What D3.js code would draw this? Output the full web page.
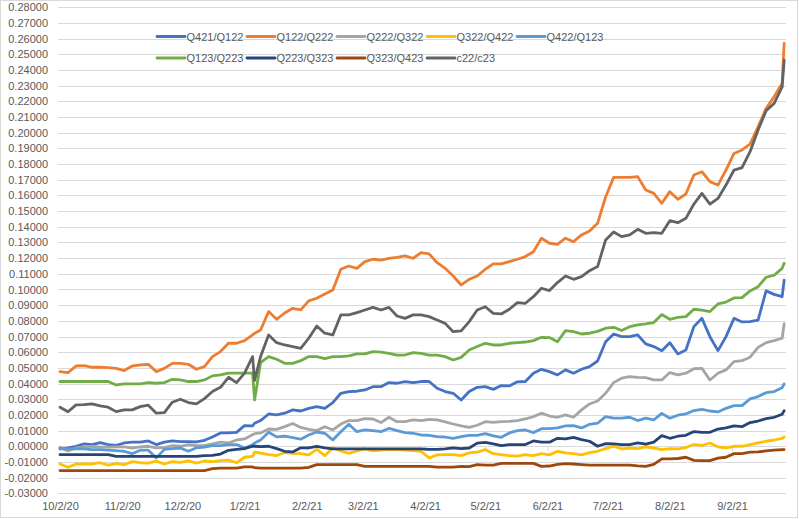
<!DOCTYPE html>
<html>
<head>
<meta charset="utf-8">
<script src="https://cdn.jsdelivr.net/npm/d3@7"></script>
<style>
  html, body { margin: 0; padding: 0; background: #fff; }
  svg { display: block; font-family: "Liberation Sans", Arial, sans-serif; }
  .tick text { fill: #595959; font-size: 11px; }
</style>
</head>
<body>
<div id="chart"></div>
<script>
// sample dates: every 4th day from 10/2/20, plus two extra days (1/7/21 dip, 9/28/21 last point)
const startDate = new Date(2020, 9, 2);
const dates = d3.range(91).map(i => d3.timeDay.offset(startDate, 4 * i));
dates.splice(25, 0, new Date(2021, 0, 7));
dates.push(new Date(2021, 8, 28));

const xTickLabels = ['10/2/20', '11/2/20', '12/2/20', '1/2/21', '2/2/21', '3/2/21',
    '4/2/21', '5/2/21', '6/2/21', '7/2/21', '8/2/21', '9/2/21'];

const seriesNames = ['Q421/Q122', 'Q122/Q222', 'Q222/Q322', 'Q322/Q422', 'Q422/Q123',
    'Q123/Q223', 'Q223/Q323', 'Q323/Q423', 'c22/c23'];
const seriesColors = ['#4472C4', '#ED7D31', '#A5A5A5', '#FFC000', '#5B9BD5',
    '#70AD47', '#264478', '#9E480E', '#636363'];

// values, in hundredths (0.05 -> 5)
const q421 = [-0.17, -0.11, 0.0, 0.15, 0.11, 0.23, 0.11, 0.06, 0.21, 0.26,
    0.26, 0.34, 0.11, 0.26, 0.34, 0.3, 0.3, 0.28, 0.38, 0.59,
    0.85, 0.85, 0.89, 1.32, 1.3, 1.47,
    1.64, 2.06, 2.0, 2.11, 2.32,
    2.25, 2.42, 2.53, 2.42, 2.78, 3.38, 3.49, 3.51, 3.59, 3.8,
    3.8, 4.06, 4.02, 4.13, 4.06, 4.13, 4.13, 3.7, 3.49, 3.38,
    2.95, 3.49, 3.76, 3.8, 3.63, 3.87, 3.85, 4.11, 4.13, 4.66,
    4.91, 4.76, 4.55, 4.87, 4.66, 4.91, 5.08, 5.44, 6.67, 7.16,
    6.99, 6.99, 7.1, 6.53, 6.36, 6.1, 6.61, 5.89, 6.14, 7.63,
    8.16, 6.99, 6.1, 6.99, 8.16, 7.93, 7.95, 8.05, 9.91, 9.69,
    9.54, 10.6];

const q122 = [4.76, 4.7, 5.12, 5.14, 5.04, 5.04, 5.02, 4.97, 4.83, 5.12,
    5.19, 5.23, 4.76, 4.97, 5.29, 5.29, 5.23, 4.91, 5.08, 5.72,
    6.04, 6.57, 6.57, 6.74, 7.1, 7.2,
    7.42, 8.59, 8.1, 8.5, 8.8,
    8.7, 9.27, 9.44, 9.71, 9.97, 11.29, 11.5, 11.35, 11.78, 11.93,
    11.88, 11.99, 12.05, 12.14, 11.99, 12.35, 12.27, 11.71, 11.35, 10.86,
    10.29, 10.65, 10.86, 11.29, 11.63, 11.63, 11.78, 11.93, 12.1, 12.41,
    13.27, 12.95, 12.88, 13.27, 13.05, 13.48, 13.73, 14.22, 15.9, 17.15,
    17.15, 17.15, 17.2, 16.35, 16.13, 15.5, 16.24, 15.75, 16.09, 17.3,
    17.51, 16.88, 16.66, 17.62, 18.68, 18.9, 19.28, 20.38, 21.55, 22.3,
    23.15, 25.7];

const q222 = [-0.11, -0.3, -0.11, -0.05, 0.0, -0.05, -0.05, -0.04, -0.04, -0.11,
    -0.04, 0.0, -0.1, -0.08, 0.04, 0.0, 0.1, 0.05, 0.04, 0.15,
    0.26, 0.21, 0.4, 0.47, 0.74, 0.8,
    0.85, 1.1, 1.08, 1.25, 1.45,
    1.2, 1.08, 1.0, 1.25, 1.04, 1.42, 1.64, 1.64, 1.76, 1.74,
    1.51, 1.85, 1.57, 1.57, 1.68, 1.64, 1.72, 1.68, 1.55, 1.42,
    1.3, 1.21, 1.34, 1.57, 1.53, 1.57, 1.59, 1.64, 1.74, 1.89,
    2.11, 1.93, 1.85, 2.0, 1.85, 2.32, 2.7, 2.89, 3.38, 4.06,
    4.34, 4.44, 4.4, 4.38, 4.23, 4.23, 4.7, 4.55, 4.66, 4.95,
    4.97, 4.23, 4.66, 4.87, 5.4, 5.46, 5.68, 6.31, 6.61, 6.74,
    6.89, 7.8];

const q322 = [-1.13, -1.34, -1.13, -1.13, -1.13, -1.05, -1.2, -1.1, -1.17, -0.98,
    -1.05, -1.08, -0.95, -1.13, -0.98, -1.03, -0.93, -1.08, -0.94, -0.98,
    -0.92, -0.88, -1.05, -0.7, -0.65, -0.38,
    -0.43, -0.53, -0.59, -0.4, -0.45,
    -0.47, -0.55, -0.2, -0.6, -0.1, -0.3, -0.45, -0.3, -0.17, -0.3,
    -0.25, -0.2, -0.21, -0.24, -0.28, -0.32, -0.75, -0.55, -0.53, -0.53,
    -0.6, -0.42, -0.38, -0.21, -0.47, -0.53, -0.6, -0.63, -0.53, -0.59,
    -0.47, -0.55, -0.32, -0.42, -0.47, -0.55, -0.4, -0.32, -0.15, 0.0,
    -0.17, -0.11, -0.15, -0.04, -0.11, -0.21, -0.15, -0.17, -0.08, 0.11,
    0.05, 0.21, -0.04, -0.1, 0.0, 0.0, 0.11, 0.21, 0.32, 0.4,
    0.51, 0.59];

const q422 = [-0.11, -0.17, -0.17, -0.17, -0.21, -0.21, -0.25, -0.28, -0.32, -0.47,
    -0.25, -0.25, -0.74, -0.2, -0.15, -0.11, -0.32, -0.1, -0.05, 0.04,
    0.04, 0.1, 0.11, -0.11, 0.1, 0.2,
    0.4, 0.89, 0.6, 0.64, 0.55,
    0.45, 0.72, 0.91, 0.83, 0.4, 0.93, 1.4, 0.93, 1.04, 1.0,
    0.93, 1.14, 1.0, 0.87, 0.83, 0.72, 0.7, 0.61, 0.59, 0.51,
    0.61, 0.7, 0.7, 0.81, 0.66, 0.57, 0.85, 1.0, 1.04, 0.87,
    1.12, 1.12, 1.17, 1.3, 1.32, 1.17, 1.4, 1.47, 1.89, 1.79,
    1.79, 1.85, 1.64, 1.79, 1.68, 2.1, 1.79, 1.98, 2.06, 2.28,
    2.36, 2.25, 2.19, 2.42, 2.59, 2.59, 3.02, 3.17, 3.42, 3.49,
    3.74, 3.97];

const q123 = [4.13, 4.13, 4.13, 4.13, 4.13, 4.13, 4.13, 3.91, 3.98, 3.98,
    3.98, 4.06, 4.02, 4.06, 4.27, 4.23, 4.13, 4.13, 4.23, 4.49,
    4.55, 4.66, 4.66, 4.66, 4.66, 2.95,
    5.34, 5.72, 5.55, 5.29, 5.29,
    5.46, 5.72, 5.72, 5.59, 5.72, 5.72, 5.76, 5.89, 5.89, 6.04,
    6.0, 5.93, 5.82, 5.82, 5.97, 5.93, 5.82, 5.82, 5.72, 5.5,
    5.67, 6.14, 6.36, 6.57, 6.46, 6.46, 6.57, 6.61, 6.65, 6.74,
    6.95, 6.93, 6.67, 7.38, 7.31, 7.16, 7.21, 7.33, 7.53, 7.59,
    7.38, 7.63, 7.74, 7.8, 7.89, 8.4, 8.1, 8.22, 8.27, 8.74,
    8.69, 8.59, 9.08, 9.2, 9.46, 9.48, 9.91, 10.18, 10.78, 10.91,
    11.35, 11.67];

const q223 = [-0.53, -0.53, -0.53, -0.53, -0.53, -0.53, -0.53, -0.64, -0.64, -0.64,
    -0.64, -0.64, -0.64, -0.64, -0.64, -0.64, -0.64, -0.64, -0.6, -0.58,
    -0.5, -0.26, -0.2, -0.15, 0.0, 0.0,
    -0.02, 0.0, -0.15, -0.32, -0.36,
    -0.1, -0.1, 0.0, -0.1, -0.17, -0.17, -0.17, -0.17, -0.17, -0.17,
    -0.17, -0.17, -0.17, -0.17, -0.17, -0.17, -0.2, -0.2, -0.17, -0.1,
    -0.15, -0.11, 0.2, 0.25, 0.15, 0.04, 0.11, 0.11, 0.11, 0.34,
    0.26, 0.26, 0.51, 0.47, 0.57, 0.43, 0.32, 0.0, 0.17, 0.15,
    0.11, 0.11, 0.21, 0.13, 0.26, 0.68, 0.51, 0.64, 0.7, 0.94,
    0.89, 0.89, 1.1, 1.17, 1.3, 1.25, 1.51, 1.61, 1.76, 1.85,
    2.04, 2.27];

const q323 = [-1.55, -1.55, -1.55, -1.55, -1.55, -1.55, -1.55, -1.55, -1.55, -1.55,
    -1.55, -1.55, -1.55, -1.55, -1.55, -1.55, -1.55, -1.55, -1.55, -1.42,
    -1.4, -1.4, -1.4, -1.32, -1.32, -1.36,
    -1.4, -1.4, -1.4, -1.4, -1.4,
    -1.4, -1.35, -1.17, -1.17, -1.17, -1.17, -1.17, -1.17, -1.28, -1.28,
    -1.28, -1.28, -1.28, -1.28, -1.28, -1.28, -1.28, -1.33, -1.33, -1.33,
    -1.28, -1.3, -1.17, -1.2, -1.2, -1.09, -1.09, -1.09, -1.09, -1.09,
    -1.28, -1.26, -1.15, -1.11, -1.13, -1.17, -1.2, -1.2, -1.2, -1.2,
    -1.2, -1.2, -1.25, -1.28, -1.15, -0.8, -0.8, -0.78, -0.7, -0.9,
    -0.92, -0.92, -0.76, -0.7, -0.47, -0.47, -0.38, -0.36, -0.3, -0.25,
    -0.21, -0.21];

const c22 = [2.49, 2.2, 2.64, 2.66, 2.7, 2.57, 2.49, 2.21, 2.32, 2.32,
    2.53, 2.62, 2.11, 2.15, 2.81, 3.0, 2.79, 2.7, 3.04, 3.49,
    3.76, 4.4, 4.06, 4.66, 5.72, 4.2,
    5.72, 7.1, 6.61, 6.46, 6.36,
    6.25, 6.89, 7.67, 7.21, 7.1, 8.38, 8.38, 8.52, 8.69, 8.86,
    8.69, 8.86, 8.31, 8.16, 8.38, 8.38, 8.27, 8.05, 7.84, 7.31,
    7.36, 7.95, 8.69, 8.9, 8.48, 8.44, 8.74, 9.16, 9.12, 9.54,
    10.08, 9.93, 10.44, 10.86, 10.65, 10.82, 11.2, 11.46, 13.16, 13.67,
    13.37, 13.48, 13.84, 13.58, 13.63, 13.58, 14.39, 14.26, 14.54, 15.45,
    16.13, 15.45, 15.81, 16.66, 17.62, 17.77, 18.79, 20.17, 21.4, 21.87,
    22.93, 24.63];

const seriesValues = [q421, q122, q222, q322, q422, q123, q223, q323, c22];

let WIDTH = 799,
    HEIGHT = 519,
    PLOT_LEFT = 58,
    PLOT_RIGHT = 786,
    GRID = '#d9d9d9',
    TEXT = '#595959';

let svg = d3.select('#chart')
    .append('svg')
    .attr('width', WIDTH)
    .attr('height', HEIGHT);

// chart border
svg.append('rect')
    .attr('x', 0.5).attr('y', 0.5)
    .attr('width', WIDTH - 2).attr('height', HEIGHT - 2)
    .attr('fill', '#fff')
    .attr('stroke', GRID);

let parseTick = d3.timeParse('%m/%d/%y');
let tickDates = xTickLabels.map(parseTick);

let x = d3.scaleTime()
    .domain([tickDates[0], tickDates[tickDates.length - 1]])
    .range([60, 732]);

let y = d3.scaleLinear()
    .domain([-0.03, 0.28])
    .range([493.3, 7.3]);

let yTicks = d3.range(-3, 29).map(k => k / 100);

// horizontal gridlines
svg.append('g')
    .selectAll('line')
    .data(yTicks)
    .enter()
    .append('line')
    .attr('x1', PLOT_LEFT)
    .attr('x2', PLOT_RIGHT)
    .attr('y1', d => Math.round(y(d)) + 0.5)
    .attr('y2', d => Math.round(y(d)) + 0.5)
    .attr('stroke', GRID);

// y labels
let yAxis = svg.append('g')
    .attr('transform', `translate(${PLOT_LEFT - 10},0)`)
    .call(d3.axisLeft(y).tickValues(yTicks).tickSize(0).tickFormat(d => d.toFixed(5)));
yAxis.select('.domain').remove();
yAxis.selectAll('text').attr('x', 0);

// month tick marks on the zero line
let xMarks = svg.append('g')
    .attr('transform', `translate(0,${Math.round(y(0)) + 0.5})`)
    .call(d3.axisBottom(x).tickValues(tickDates).tickSize(5).tickFormat(''));
xMarks.select('.domain').remove();
xMarks.selectAll('line').attr('stroke', GRID);

// date labels along the bottom
let xAxis = svg.append('g')
    .attr('transform', 'translate(0,499)')
    .call(d3.axisBottom(x).tickValues(tickDates).tickSize(0).tickFormat(d3.timeFormat('%-m/%-d/%y')));
xAxis.select('.domain').remove();

// series lines
let line = d3.line()
    .x(d => x(d.date))
    .y(d => y(d.value / 100));

svg.append('g')
    .selectAll('path')
    .data(seriesValues.map((vals, k) => ({
        color: seriesColors[k],
        points: vals.map((v, i) => ({date: dates[i], value: v}))
    })))
    .enter()
    .append('path')
    .attr('d', d => line(d.points))
    .attr('fill', 'none')
    .attr('stroke', d => d.color)
    .attr('stroke-width', 2.8)
    .attr('stroke-linejoin', 'round')
    .attr('stroke-linecap', 'round');

// legend, two rows of five
let legendX = [157, 247, 337, 427, 517],
    legendY = [36.5, 58];

let legend = svg.append('g')
    .selectAll('g')
    .data(seriesNames)
    .enter()
    .append('g')
    .attr('transform', (d, i) => `translate(${legendX[i % 5]},${legendY[Math.floor(i / 5)]})`);

legend.append('line')
    .attr('x1', 0).attr('x2', 28)
    .attr('stroke', (d, i) => seriesColors[i])
    .attr('stroke-width', 2.8)
    .attr('stroke-linecap', 'round');

legend.append('text')
    .attr('x', 29.5)
    .attr('y', 4)
    .attr('fill', TEXT)
    .attr('font-size', 11)
    .text(d => d);
</script>
</body>
</html>
